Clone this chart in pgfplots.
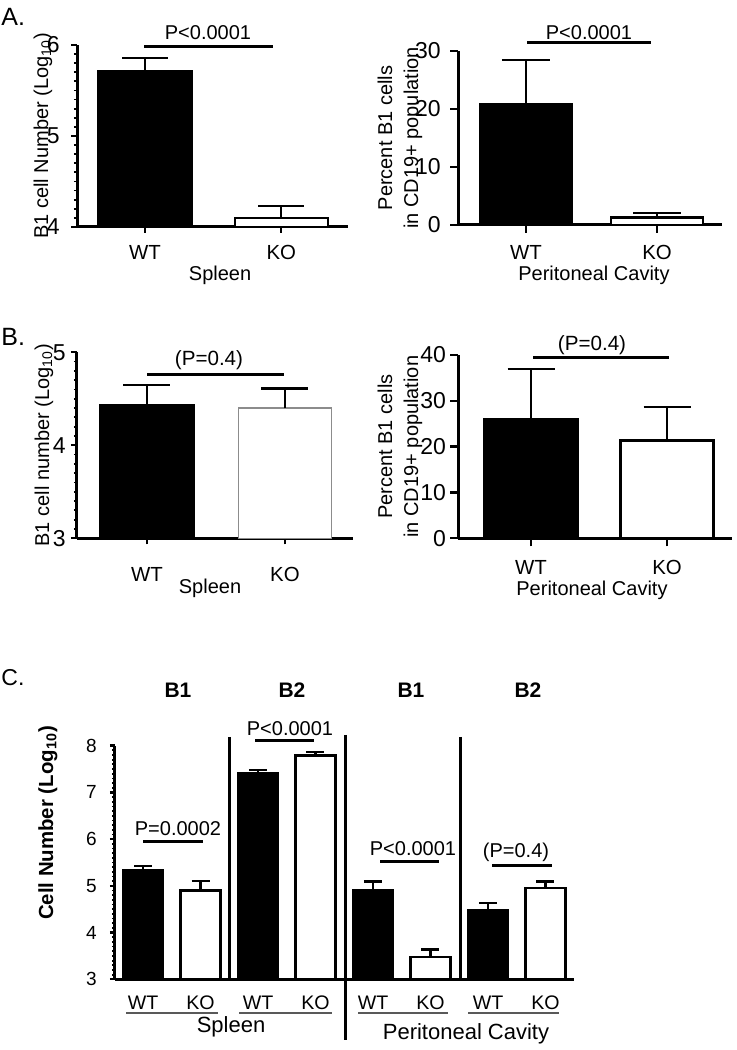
\documentclass[border=0pt]{standalone}
\usepackage{fontspec}
\setmainfont{Liberation Sans}
\usepackage{pgfplots}
\pgfplotsset{compat=1.18}

\pgfplotsset{
  prism/.style={
    scale only axis,
    axis lines=left,
    axis line style={-, line width=1.5pt},
    tick align=outside,
    major tick length=4pt,
    minor tick length=1.6pt,
    tick style={line width=1.2pt, black},
    minor tick style={line width=0.9pt},
    /pgf/number format/assume math mode=true,
    yticklabel style={font=\fontsize{11.5}{13}\selectfont, anchor=east, inner sep=0pt},
    xticklabel style={font=\fontsize{10.2}{12}\selectfont, anchor=base, inner sep=0pt},
    ylabel style={font=\fontsize{10}{12}\selectfont, align=center, anchor=center},
    xlabel style={font=\fontsize{10}{12}\selectfont, anchor=center},
    ybar,
    enlargelimits=false,
    xtick={1,2}, xticklabels={WT,KO},
    error bars/error bar style={line width=1.2pt, black},
  },
  wt/.style={fill=black, draw=black, line width=1.2pt, bar shift=0pt},
  ko/.style={fill=white, draw=black, line width=1.2pt, bar shift=0pt},
}

\begin{document}
\begin{tikzpicture}
\useasboundingbox (0,0) rectangle (368pt,525pt);

% ---------- A left ----------
\begin{axis}[prism, at={(38.5pt,411.5pt)}, anchor=south west,
  width=135.5pt, height=91pt, xmin=0.5, xmax=2.49, ymin=4, ymax=6,
  ytick={4,5,6}, minor y tick num=9, major tick length=3pt,
  yticklabel style={xshift=-5.5pt},
  xticklabel style={yshift=-13.2pt},
  bar width=46.5pt,
  error bars/error mark options={rotate=90, mark size=11.5pt, line width=1.2pt, black},
  ylabel={B1 cell Number (Log\textsubscript{10})},
  ylabel style={at={(rel axis cs:-0.1255,0.5)}},
  xlabel={Spleen}, xlabel style={at={(rel axis cs:0.528,-0.264)}}]
\addplot[wt, error bars/.cd, y dir=plus, y explicit] coordinates {(1,5.71) +- (0,0.15)};
\addplot[ko, error bars/.cd, y dir=plus, y explicit] coordinates {(2,4.10) +- (0,0.13)};
\end{axis}

% ---------- A right ----------
\begin{axis}[prism, at={(229pt,412.5pt)}, anchor=south west,
  width=132pt, height=87pt, xmin=0.481, xmax=2.496, ymin=0, ymax=30,
  ytick={0,10,20,30},
  yticklabel style={xshift=-4.5pt},
  xticklabel style={yshift=-13.5pt},
  bar width=46pt,
  error bars/error mark options={rotate=90, mark size=12pt, line width=1.2pt, black},
  ylabel={Percent B1 cells\\in CD19+ population},
  ylabel style={at={(rel axis cs:-0.22,0.5)}, font=\fontsize{10}{13}\selectfont},
  xlabel={Peritoneal Cavity}, xlabel style={at={(rel axis cs:0.515,-0.287)}}]
\addplot[wt, error bars/.cd, y dir=plus, y explicit] coordinates {(1,20.8) +- (0,7.6)};
\addplot[ko, error bars/.cd, y dir=plus, y explicit] coordinates {(2,1.3) +- (0,0.8)};
\end{axis}

% ---------- B left ----------
\begin{axis}[prism, at={(38.5pt,255.85pt)}, anchor=south west,
  width=138pt, height=93pt, xmin=0.493, xmax=2.493, ymin=3, ymax=5,
  ytick={3,4,5}, minor y tick num=9, major tick length=3pt,
  yticklabel style={xshift=-2.5pt},
  xticklabel style={yshift=-18.5pt},
  bar width=46.5pt,
  error bars/error mark options={rotate=90, mark size=11.75pt, line width=1.2pt, black},
  ylabel={B1 cell number (Log\textsubscript{10})},
  ylabel style={at={(rel axis cs:-0.12,0.5)}},
  xlabel={Spleen}, xlabel style={at={(rel axis cs:0.482,-0.267)}}]
\addplot[wt, error bars/.cd, y dir=plus, y explicit] coordinates {(1,4.43) +- (0,0.22)};
\addplot[fill=white, draw=black!45, line width=0.7pt, bar shift=0pt,
  error bars/.cd, y dir=plus, y explicit] coordinates {(2,4.40) +- (0,0.21)};
\end{axis}

% ---------- B right ----------
\begin{axis}[prism, at={(229pt,255.85pt)}, anchor=south west,
  width=137pt, height=91.65pt, xmin=0.463, xmax=2.478, ymin=0, ymax=40,
  ytick={0,10,20,30,40},
  yticklabel style={xshift=-1.8pt},
  xticklabel style={yshift=-14pt},
  bar width=46.5pt,
  error bars/error mark options={rotate=90, mark size=11.75pt, line width=1.2pt, black},
  ylabel={Percent B1 cells\\in CD19+ population},
  ylabel style={at={(rel axis cs:-0.212,0.5)}, font=\fontsize{10}{13}\selectfont},
  xlabel={Peritoneal Cavity}, xlabel style={at={(rel axis cs:0.489,-0.282)}}]
\addplot[wt, error bars/.cd, y dir=plus, y explicit] coordinates {(1,26.0) +- (0,10.9)};
\addplot[ko, error bars/.cd, y dir=plus, y explicit] coordinates {(2,21.3) +- (0,7.4)};
\end{axis}

% ---------- C ----------
\begin{axis}[prism, at={(57.5pt,35.35pt)}, anchor=south west,
  width=229.5pt, height=116.8pt, xmin=-0.487, xmax=7.496, ymin=3, ymax=8,
  ytick={3,4,5,6,7,8}, minor y tick num=9, major tick length=2.5pt,
  minor tick length=1.3pt,
  yticklabel style={font=\fontsize{9.5}{11}\selectfont, xshift=-6.5pt},
  xtick={0,1,2,3,4,5,6,7}, xticklabels={WT,KO,WT,KO,WT,KO,WT,KO},
  xtick style={draw=none},
  xticklabel style={font=\fontsize{9.8}{12}\selectfont, yshift=-12.8pt},
  bar width=20pt,
  error bars/error mark options={rotate=90, mark size=4.5pt, line width=1.2pt, black},
  ylabel={\bfseries Cell Number (Log\textsubscript{10})},
  ylabel style={at={(rel axis cs:-0.146,0.669)}, font=\fontsize{10.2}{12}\selectfont}]
\addplot[wt, error bars/.cd, y dir=plus, y explicit] coordinates {
  (0,5.33) +- (0,0.10) (2,7.41) +- (0,0.07) (4,4.90) +- (0,0.19) (6,4.47) +- (0,0.16)};
\addplot[ko, error bars/.cd, y dir=plus, y explicit] coordinates {
  (1,4.90) +- (0,0.21) (3,7.79) +- (0,0.08) (5,3.48) +- (0,0.16) (7,4.95) +- (0,0.14)};
\end{axis}

% ---------- annotations (pixel frame) ----------
\begin{scope}[x=0.5pt, y=-0.5pt, shift={(0pt,525pt)}]
  % panel letters
  \node[anchor=west, inner sep=0pt, font=\fontsize{12.5}{14}\selectfont] at (1,17) {A.};
  \node[anchor=west, inner sep=0pt, font=\fontsize{12.5}{14}\selectfont] at (1,337) {B.};
  \node[anchor=west, inner sep=0pt, font=\fontsize{11.5}{14}\selectfont] at (1,678) {C.};
  % A
  \draw[line width=1.5pt] (144,46.7) -- (273,46.7);
  \node[font=\fontsize{10}{12}\selectfont] at (208,33) {P<0.0001};
  \draw[line width=1.5pt] (527,42.7) -- (651,42.7);
  \node[font=\fontsize{10}{12}\selectfont] at (589,33) {P<0.0001};
  % B
  \draw[line width=1.5pt] (147,374.3) -- (284,374.3);
  \node[font=\fontsize{10.3}{12}\selectfont] at (209,360) {(P=0.4)};
  \draw[line width=1.5pt] (533,357.7) -- (669,357.7);
  \node[font=\fontsize{10.3}{12}\selectfont] at (592,345) {(P=0.4)};
  % C headers
  \foreach \xx/\tt in {178/B1, 292/B2, 411/B1, 528/B2}
    \node[font=\bfseries\fontsize{10.5}{12}\selectfont] at (\xx,690) {\tt};
  % C p-values
  \draw[line width=1.5pt] (143,841.7) -- (203,841.7);
  \node[font=\fontsize{10}{12}\selectfont] at (178,829) {P=0.0002};
  \draw[line width=1.5pt] (255,741) -- (314,741);
  \node[font=\fontsize{10}{12}\selectfont] at (290,729) {P<0.0001};
  \draw[line width=1.5pt] (380,861.7) -- (439,861.7);
  \node[font=\fontsize{10}{12}\selectfont] at (413,849) {P<0.0001};
  \draw[line width=1.5pt] (492,865.7) -- (552,865.7);
  \node[font=\fontsize{10}{12}\selectfont] at (516,852) {(P=0.4)};
  % C separators
  \draw[line width=1.5pt] (229,737) -- (229,979);
  \draw[line width=1.5pt] (345,735) -- (345,1040);
  \draw[line width=1.5pt] (460,737) -- (460,978);
  % C underlines
  \foreach \a/\b in {126/218, 239/332, 358/448, 468/559}
    \draw[line width=1pt, black!65] (\a,1013) -- (\b,1013);
  \node[font=\fontsize{11}{13}\selectfont] at (231,1027) {Spleen};
  \node[font=\fontsize{11}{13}\selectfont] at (466,1034) {Peritoneal Cavity};
\end{scope}
\end{tikzpicture}
\end{document}
